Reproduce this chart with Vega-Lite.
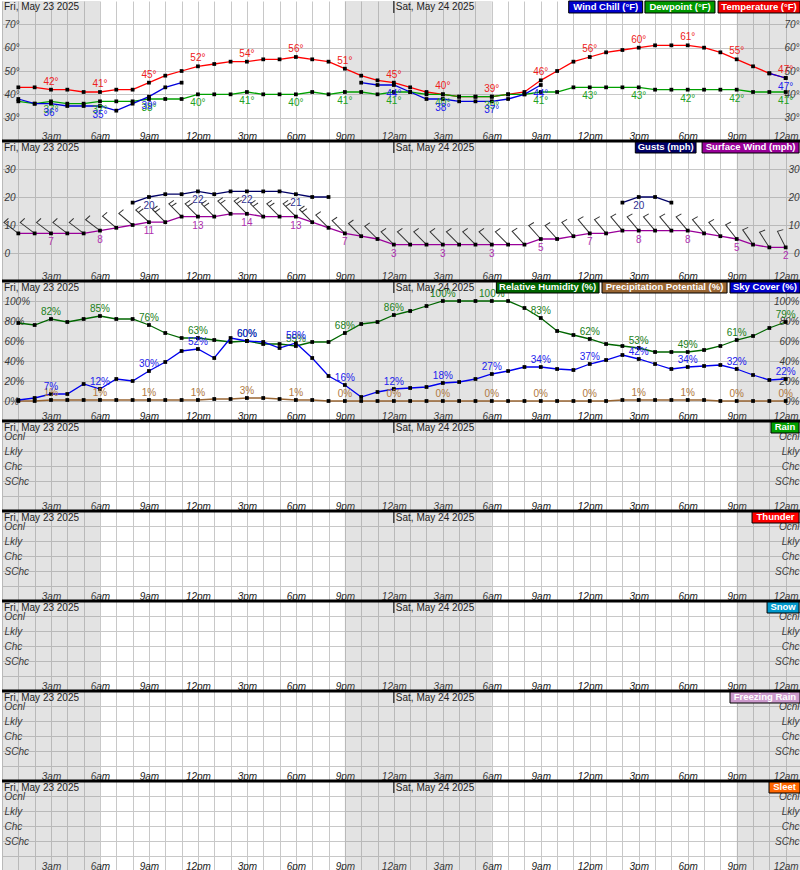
{
"$schema": "https://vega.github.io/schema/vega-lite/v6.json",
"padding": 0,
"background": "white",
"spacing": 0,
"bounds": "flush",
"config": {
  "view": {"stroke": null},
  "font": "Liberation Sans",
  "text": {"font": "Liberation Sans", "fontSize": 10},
  "axisX": {"tickCount": 49, "grid": true, "gridColor": "#c8c8c8", "ticks": false, "tickSize": 0, "domain": false, "labelPadding": -2, "labelBaseline": "alphabetic", "labelOverlap": false, "labelBound": false, "labelFlush": false, "labelFontStyle": "italic", "labelFontSize": 10, "labelColor": "#222", "labelFont": "Liberation Sans",
    "labelExpr": "datum.value % 3 == 0 && datum.value > 0 && datum.value < 49 ? (datum.value % 12 == 0 ? 12 : datum.value % 12) + (datum.value % 24 < 12 ? 'am' : 'pm') : ''"},
  "axisY": {"ticks": false, "tickSize": 0, "domain": false, "labelFontStyle": "italic", "labelFontSize": 10, "labelColor": "#222", "labelFont": "Liberation Sans", "labelOverlap": false, "labelBound": false, "labelFlush": false, "gridColor": "#c8c8c8", "labelBaseline": "middle"},
  "axisLeft": {"labelAlign": "left", "labelPadding": -2},
  "axisRight": {"labelAlign": "right", "labelPadding": -3}
},
"datasets": {
  "night": [{"s":0,"e":6},{"s":21,"e":30},{"s":45,"e":49}],
  "dates": [{"h":0,"t":"Fri, May 23 2025"},{"h":24,"t":"Sat, May 24 2025"}],
  "hourly": [
{"h":1,"T":43,"Td":37,"WC":38,"RH":78,"PP":0,"SC":1,"WS":7,"WG":null,"WD":307},
{"h":2,"T":43,"Td":36,"WC":36,"RH":76,"PP":0,"SC":3,"WS":7,"WG":null,"WD":307},
{"h":3,"T":42,"Td":37,"WC":36,"RH":82,"PP":1,"SC":7,"WS":7,"WG":null,"WD":307},
{"h":4,"T":42,"Td":36,"WC":35,"RH":79,"PP":1,"SC":7,"WS":7,"WG":null,"WD":307},
{"h":5,"T":41,"Td":36,"WC":35,"RH":82,"PP":1,"SC":17,"WS":7,"WG":null,"WD":307},
{"h":6,"T":41,"Td":37,"WC":35,"RH":85,"PP":1,"SC":12,"WS":8,"WG":null,"WD":307},
{"h":7,"T":42,"Td":37,"WC":33,"RH":82,"PP":1,"SC":22,"WS":9,"WG":null,"WD":310},
{"h":8,"T":42,"Td":37,"WC":36,"RH":82,"PP":1,"SC":20,"WS":10,"WG":18,"WD":310},
{"h":9,"T":45,"Td":38,"WC":39,"RH":76,"PP":1,"SC":30,"WS":11,"WG":20,"WD":313},
{"h":10,"T":48,"Td":38,"WC":43,"RH":68,"PP":1,"SC":39,"WS":11,"WG":21,"WD":315},
{"h":11,"T":50,"Td":38,"WC":45,"RH":63,"PP":1,"SC":50,"WS":13,"WG":21,"WD":315},
{"h":12,"T":52,"Td":40,"WC":null,"RH":63,"PP":1,"SC":52,"WS":13,"WG":22,"WD":315},
{"h":13,"T":53,"Td":40,"WC":null,"RH":61,"PP":2,"SC":43,"WS":13,"WG":21,"WD":315},
{"h":14,"T":54,"Td":40,"WC":null,"RH":59,"PP":2,"SC":63,"WS":14,"WG":22,"WD":315},
{"h":15,"T":54,"Td":41,"WC":null,"RH":60,"PP":3,"SC":60,"WS":14,"WG":22,"WD":315},
{"h":16,"T":55,"Td":40,"WC":null,"RH":57,"PP":3,"SC":59,"WS":13,"WG":22,"WD":315},
{"h":17,"T":55,"Td":40,"WC":null,"RH":57,"PP":2,"SC":53,"WS":13,"WG":22,"WD":315},
{"h":18,"T":56,"Td":40,"WC":null,"RH":55,"PP":1,"SC":58,"WS":13,"WG":21,"WD":315},
{"h":19,"T":55,"Td":41,"WC":null,"RH":59,"PP":1,"SC":43,"WS":11,"WG":20,"WD":315},
{"h":20,"T":54,"Td":40,"WC":null,"RH":59,"PP":0,"SC":25,"WS":9,"WG":20,"WD":315},
{"h":21,"T":51,"Td":41,"WC":null,"RH":68,"PP":0,"SC":16,"WS":7,"WG":null,"WD":315},
{"h":22,"T":48,"Td":41,"WC":45,"RH":77,"PP":0,"SC":4,"WS":6,"WG":null,"WD":315},
{"h":23,"T":46,"Td":40,"WC":44,"RH":79,"PP":0,"SC":9,"WS":5,"WG":null,"WD":315},
{"h":24,"T":45,"Td":41,"WC":44,"RH":86,"PP":0,"SC":12,"WS":3,"WG":null,"WD":315},
{"h":25,"T":43,"Td":41,"WC":41,"RH":90,"PP":0,"SC":13,"WS":3,"WG":null,"WD":315},
{"h":26,"T":41,"Td":40,"WC":38,"RH":95,"PP":0,"SC":14,"WS":3,"WG":null,"WD":315},
{"h":27,"T":40,"Td":40,"WC":38,"RH":100,"PP":0,"SC":18,"WS":3,"WG":null,"WD":315},
{"h":28,"T":39,"Td":39,"WC":37,"RH":100,"PP":0,"SC":19,"WS":3,"WG":null,"WD":315},
{"h":29,"T":39,"Td":39,"WC":37,"RH":100,"PP":0,"SC":22,"WS":3,"WG":null,"WD":315},
{"h":30,"T":39,"Td":39,"WC":37,"RH":100,"PP":0,"SC":27,"WS":3,"WG":null,"WD":315},
{"h":31,"T":40,"Td":40,"WC":38,"RH":100,"PP":0,"SC":30,"WS":3,"WG":null,"WD":315},
{"h":32,"T":41,"Td":40,"WC":40,"RH":93,"PP":0,"SC":34,"WS":3,"WG":null,"WD":317},
{"h":33,"T":46,"Td":41,"WC":44,"RH":83,"PP":0,"SC":34,"WS":5,"WG":null,"WD":318},
{"h":34,"T":50,"Td":41,"WC":null,"RH":70,"PP":0,"SC":32,"WS":5,"WG":null,"WD":318},
{"h":35,"T":54,"Td":43,"WC":null,"RH":66,"PP":0,"SC":31,"WS":6,"WG":null,"WD":320},
{"h":36,"T":56,"Td":43,"WC":null,"RH":62,"PP":0,"SC":37,"WS":7,"WG":null,"WD":320},
{"h":37,"T":58,"Td":43,"WC":null,"RH":57,"PP":0,"SC":41,"WS":7,"WG":null,"WD":320},
{"h":38,"T":59,"Td":43,"WC":null,"RH":55,"PP":1,"SC":46,"WS":8,"WG":18,"WD":320},
{"h":39,"T":60,"Td":43,"WC":null,"RH":53,"PP":1,"SC":42,"WS":8,"WG":20,"WD":320},
{"h":40,"T":61,"Td":42,"WC":null,"RH":49,"PP":1,"SC":37,"WS":8,"WG":20,"WD":320},
{"h":41,"T":61,"Td":42,"WC":null,"RH":49,"PP":1,"SC":32,"WS":8,"WG":18,"WD":320},
{"h":42,"T":61,"Td":42,"WC":null,"RH":49,"PP":1,"SC":34,"WS":8,"WG":null,"WD":320},
{"h":43,"T":60,"Td":42,"WC":null,"RH":51,"PP":1,"SC":35,"WS":7,"WG":null,"WD":320},
{"h":44,"T":58,"Td":42,"WC":null,"RH":55,"PP":0,"SC":36,"WS":6,"WG":null,"WD":320},
{"h":45,"T":55,"Td":42,"WC":null,"RH":61,"PP":0,"SC":32,"WS":5,"WG":null,"WD":322},
{"h":46,"T":52,"Td":41,"WC":null,"RH":65,"PP":0,"SC":26,"WS":3,"WG":null,"WD":325},
{"h":47,"T":49,"Td":41,"WC":49,"RH":73,"PP":0,"SC":21,"WS":2,"WG":null,"WD":327},
{"h":48,"T":47,"Td":41,"WC":47,"RH":79,"PP":0,"SC":22,"WS":2,"WG":null,"WD":333}
  ]
},
"vconcat": [
{
 "width": 800, "height": 140,
 "resolve": {"axis": {"y": "independent"}},
 "layer": [
  {"data":{"name":"night"},"mark":{"type":"rect","fill":"#8c8c8c","opacity":0.24},"encoding":{"x":{"field":"s","type":"quantitative","scale":{"domain":[0,49],"nice":false,"zero":false},"title":null},"x2":{"field":"e"}}},
  {"data":{"name":"hourly"},"mark":{"type":"line","color":"#ff0000","strokeWidth":1.3,"point":{"filled":true,"color":"black","shape":"square","size":14,"opacity":1}},"encoding":{"x":{"field":"h","type":"quantitative","scale":{"domain":[0,49],"nice":false,"zero":false},"title":null},"y":{"field":"T","type":"quantitative","scale":{"domain":[20,80],"nice":false,"zero":false},"title":null,"axis":{"orient":"left","values":[30,40,50,60,70],"grid":true,"labelExpr":"datum.value + '°'"}}}},
  {"data":{"name":"hourly"},"mark":{"type":"line","color":"#00a000","strokeWidth":1.3,"point":{"filled":true,"color":"black","shape":"square","size":14,"opacity":1}},"encoding":{"x":{"field":"h","type":"quantitative","scale":{"domain":[0,49],"nice":false,"zero":false},"title":null},"y":{"field":"Td","type":"quantitative","scale":{"domain":[20,80],"nice":false,"zero":false},"title":null,"axis":{"orient":"right","values":[30,40,50,60,70],"grid":false,"labelExpr":"datum.value + '°'"}}}},
  {"data":{"name":"hourly"},"mark":{"type":"line","color":"#0000dd","strokeWidth":1.3,"invalid":"break-paths-show-domains","point":{"filled":true,"color":"black","shape":"square","size":14,"opacity":1}},"encoding":{"x":{"field":"h","type":"quantitative","scale":{"domain":[0,49],"nice":false,"zero":false},"title":null},"y":{"field":"WC","type":"quantitative","scale":{"domain":[20,80],"nice":false,"zero":false},"axis":null}}},
  {"data":{"name":"hourly"},"transform":[{"filter":"datum.h % 3 == 0"}],"mark":{"type":"text","color":"#ee2020","dy":-8,"text":{"expr":"datum.T + '°'"}},"encoding":{"x":{"field":"h","type":"quantitative","scale":{"domain":[0,49],"nice":false,"zero":false},"title":null},"y":{"field":"T","type":"quantitative","scale":{"domain":[20,80],"nice":false,"zero":false},"axis":null}}},
  {"data":{"name":"hourly"},"transform":[{"filter":"datum.h % 3 == 0"}],"mark":{"type":"text","color":"#22a022","dy":9,"text":{"expr":"datum.Td + '°'"}},"encoding":{"x":{"field":"h","type":"quantitative","scale":{"domain":[0,49],"nice":false,"zero":false},"title":null},"y":{"field":"Td","type":"quantitative","scale":{"domain":[20,80],"nice":false,"zero":false},"axis":null}}},
  {"data":{"name":"hourly"},"transform":[{"filter":"datum.h % 3 == 0 && isValid(datum.WC)"}],"mark":{"type":"text","color":"#2020ee","dy":9,"text":{"expr":"datum.WC + '°'"}},"encoding":{"x":{"field":"h","type":"quantitative","scale":{"domain":[0,49],"nice":false,"zero":false},"title":null},"y":{"field":"WC","type":"quantitative","scale":{"domain":[20,80],"nice":false,"zero":false},"axis":null}}},
  {"data":{"values":[{}]},"mark":{"type":"rect","fill":"#0000cc","stroke":"black","strokeWidth":1},"encoding":{"x":{"datum":34.71,"type":"quantitative","title":null},"x2":{"datum":39.24},"y":{"datum":80,"type":"quantitative","scale":{"domain":[20,80],"nice":false,"zero":false},"axis":null},"y2":{"datum":74.86}}},
  {"data":{"values":[{}]},"mark":{"type":"text","text":"Wind Chill (°F)","color":"white","fontWeight":"bold","fontSize":9.5,"align":"center","baseline":"middle"},"encoding":{"x":{"datum":36.98,"type":"quantitative","title":null},"y":{"datum":77.43,"type":"quantitative","scale":{"domain":[20,80],"nice":false,"zero":false},"axis":null}}},
  {"data":{"values":[{}]},"mark":{"type":"rect","fill":"#009900","stroke":"black","strokeWidth":1},"encoding":{"x":{"datum":39.38,"type":"quantitative","title":null},"x2":{"datum":43.67},"y":{"datum":80,"type":"quantitative","scale":{"domain":[20,80],"nice":false,"zero":false},"axis":null},"y2":{"datum":74.86}}},
  {"data":{"values":[{}]},"mark":{"type":"text","text":"Dewpoint (°F)","color":"white","fontWeight":"bold","fontSize":9.5,"align":"center","baseline":"middle"},"encoding":{"x":{"datum":41.53,"type":"quantitative","title":null},"y":{"datum":77.43,"type":"quantitative","scale":{"domain":[20,80],"nice":false,"zero":false},"axis":null}}},
  {"data":{"values":[{}]},"mark":{"type":"rect","fill":"#ee0000","stroke":"black","strokeWidth":1},"encoding":{"x":{"datum":43.86,"type":"quantitative","title":null},"x2":{"datum":48.88},"y":{"datum":80,"type":"quantitative","scale":{"domain":[20,80],"nice":false,"zero":false},"axis":null},"y2":{"datum":74.86}}},
  {"data":{"values":[{}]},"mark":{"type":"text","text":"Temperature (°F)","color":"white","fontWeight":"bold","fontSize":9.5,"align":"center","baseline":"middle"},"encoding":{"x":{"datum":46.37,"type":"quantitative","title":null},"y":{"datum":77.43,"type":"quantitative","scale":{"domain":[20,80],"nice":false,"zero":false},"axis":null}}},
  {"data":{"name":"dates"},"mark":{"type":"text","align":"left","baseline":"top","dx":2,"dy":1,"color":"#222"},"encoding":{"x":{"field":"h","type":"quantitative","scale":{"domain":[0,49],"nice":false,"zero":false},"title":null},"y":{"datum":80,"type":"quantitative","scale":{"domain":[20,80],"nice":false,"zero":false},"axis":null},"text":{"field":"t"}}},
  {"data":{"name":"dates"},"transform":[{"filter":"datum.h > 0"}],"mark":{"type":"rule","color":"black","strokeWidth":1},"encoding":{"x":{"field":"h","type":"quantitative","scale":{"domain":[0,49],"nice":false,"zero":false},"title":null},"y":{"datum":80,"type":"quantitative","scale":{"domain":[20,80],"nice":false,"zero":false},"axis":null},"y2":{"datum":74.86}}}
 ]
},
{
 "width": 800, "height": 140,
 "resolve": {"axis": {"y": "independent"}},
 "layer": [
  {"data":{"name":"night"},"mark":{"type":"rect","fill":"#8c8c8c","opacity":0.24},"encoding":{"x":{"field":"s","type":"quantitative","scale":{"domain":[0,49],"nice":false,"zero":false},"title":null},"x2":{"field":"e"}}},
  {"data":{"name":"hourly"},"transform":[{"filter":"datum.WS < 11"}],"mark":{"type":"point","shape":"M0,0L0,-1L0.33,-0.94","size":1296,"filled":false,"color":"#333","strokeWidth":1,"opacity":1},"encoding":{"x":{"field":"h","type":"quantitative","scale":{"domain":[0,49],"nice":false,"zero":false},"title":null},"y":{"field":"WS","type":"quantitative","scale":{"domain":[-10,40],"nice":false,"zero":false},"axis":null},"angle":{"field":"WD","type":"quantitative","scale":null}}},
  {"data":{"name":"hourly"},"transform":[{"filter":"datum.WS >= 11"}],"mark":{"type":"point","shape":"M0,0L0,-1L0.33,-0.94M0,-0.8L0.33,-0.74","size":1296,"filled":false,"color":"#333","strokeWidth":1,"opacity":1},"encoding":{"x":{"field":"h","type":"quantitative","scale":{"domain":[0,49],"nice":false,"zero":false},"title":null},"y":{"field":"WS","type":"quantitative","scale":{"domain":[-10,40],"nice":false,"zero":false},"axis":null},"angle":{"field":"WD","type":"quantitative","scale":null}}},
  {"data":{"name":"hourly"},"mark":{"type":"line","color":"#990099","strokeWidth":1.3,"point":{"filled":true,"color":"black","shape":"square","size":14,"opacity":1}},"encoding":{"x":{"field":"h","type":"quantitative","scale":{"domain":[0,49],"nice":false,"zero":false},"title":null},"y":{"field":"WS","type":"quantitative","scale":{"domain":[-10,40],"nice":false,"zero":false},"title":null,"axis":{"orient":"left","values":[0,10,20,30],"grid":true}}}},
  {"data":{"name":"hourly"},"mark":{"type":"line","color":"#000066","strokeWidth":1.3,"invalid":"break-paths-show-domains","point":{"filled":true,"color":"black","shape":"square","size":14,"opacity":1}},"encoding":{"x":{"field":"h","type":"quantitative","scale":{"domain":[0,49],"nice":false,"zero":false},"title":null},"y":{"field":"WG","type":"quantitative","scale":{"domain":[-10,40],"nice":false,"zero":false},"title":null,"axis":{"orient":"right","values":[0,10,20,30],"grid":false}}}},
  {"data":{"name":"hourly"},"transform":[{"filter":"datum.h % 3 == 0"}],"mark":{"type":"text","color":"#b030b0","dy":9},"encoding":{"x":{"field":"h","type":"quantitative","scale":{"domain":[0,49],"nice":false,"zero":false},"title":null},"y":{"field":"WS","type":"quantitative","scale":{"domain":[-10,40],"nice":false,"zero":false},"axis":null},"text":{"field":"WS","type":"quantitative"}}},
  {"data":{"name":"hourly"},"transform":[{"filter":"datum.h % 3 == 0 && isValid(datum.WG)"}],"mark":{"type":"text","color":"#303090","dy":9},"encoding":{"x":{"field":"h","type":"quantitative","scale":{"domain":[0,49],"nice":false,"zero":false},"title":null},"y":{"field":"WG","type":"quantitative","scale":{"domain":[-10,40],"nice":false,"zero":false},"axis":null},"text":{"field":"WG","type":"quantitative"}}},
  {"data":{"values":[{}]},"mark":{"type":"rect","fill":"#000066","stroke":"black","strokeWidth":1},"encoding":{"x":{"datum":38.79,"type":"quantitative","title":null},"x2":{"datum":42.51},"y":{"datum":40,"type":"quantitative","scale":{"domain":[-10,40],"nice":false,"zero":false},"axis":null},"y2":{"datum":35.71}}},
  {"data":{"values":[{}]},"mark":{"type":"text","text":"Gusts (mph)","color":"white","fontWeight":"bold","fontSize":9.5,"align":"center","baseline":"middle"},"encoding":{"x":{"datum":40.65,"type":"quantitative","title":null},"y":{"datum":37.86,"type":"quantitative","scale":{"domain":[-10,40],"nice":false,"zero":false},"axis":null}}},
  {"data":{"values":[{}]},"mark":{"type":"rect","fill":"#990099","stroke":"black","strokeWidth":1},"encoding":{"x":{"datum":42.88,"type":"quantitative","title":null},"x2":{"datum":48.82},"y":{"datum":40,"type":"quantitative","scale":{"domain":[-10,40],"nice":false,"zero":false},"axis":null},"y2":{"datum":35.71}}},
  {"data":{"values":[{}]},"mark":{"type":"text","text":"Surface Wind (mph)","color":"white","fontWeight":"bold","fontSize":9.5,"align":"center","baseline":"middle"},"encoding":{"x":{"datum":45.85,"type":"quantitative","title":null},"y":{"datum":37.86,"type":"quantitative","scale":{"domain":[-10,40],"nice":false,"zero":false},"axis":null}}},
  {"data":{"name":"dates"},"mark":{"type":"text","align":"left","baseline":"top","dx":2,"dy":2,"color":"#222"},"encoding":{"x":{"field":"h","type":"quantitative","scale":{"domain":[0,49],"nice":false,"zero":false},"title":null},"y":{"datum":40,"type":"quantitative","scale":{"domain":[-10,40],"nice":false,"zero":false},"axis":null},"text":{"field":"t"}}},
  {"data":{"name":"dates"},"transform":[{"filter":"datum.h > 0"}],"mark":{"type":"rule","color":"black","strokeWidth":1},"encoding":{"x":{"field":"h","type":"quantitative","scale":{"domain":[0,49],"nice":false,"zero":false},"title":null},"y":{"datum":40,"type":"quantitative","scale":{"domain":[-10,40],"nice":false,"zero":false},"axis":null},"y2":{"datum":35.71}}},
  {"data":{"values":[{}]},"mark":{"type":"rule","color":"black","strokeWidth":3},"encoding":{"y":{"datum":40,"type":"quantitative","scale":{"domain":[-10,40],"nice":false,"zero":false},"axis":null}}}
 ]
},
{
 "width": 800, "height": 140,
 "resolve": {"axis": {"y": "independent"}},
 "layer": [
  {"data":{"name":"night"},"mark":{"type":"rect","fill":"#8c8c8c","opacity":0.24},"encoding":{"x":{"field":"s","type":"quantitative","scale":{"domain":[0,49],"nice":false,"zero":false},"title":null},"x2":{"field":"e"}}},
  {"data":{"name":"hourly"},"mark":{"type":"line","color":"#006600","strokeWidth":1.3,"point":{"filled":true,"color":"black","shape":"square","size":14,"opacity":1}},"encoding":{"x":{"field":"h","type":"quantitative","scale":{"domain":[0,49],"nice":false,"zero":false},"title":null},"y":{"field":"RH","type":"quantitative","scale":{"domain":[-20,120],"nice":false,"zero":false},"title":null,"axis":{"orient":"left","values":[0,20,40,60,80,100],"grid":true,"labelExpr":"datum.value + '%'"}}}},
  {"data":{"name":"hourly"},"mark":{"type":"line","color":"#996633","strokeWidth":1.3,"point":{"filled":true,"color":"black","shape":"square","size":14,"opacity":1}},"encoding":{"x":{"field":"h","type":"quantitative","scale":{"domain":[0,49],"nice":false,"zero":false},"title":null},"y":{"field":"PP","type":"quantitative","scale":{"domain":[-20,120],"nice":false,"zero":false},"title":null,"axis":{"orient":"right","values":[0,20,40,60,80,100],"grid":false,"labelExpr":"datum.value + '%'"}}}},
  {"data":{"name":"hourly"},"mark":{"type":"line","color":"#0000ee","strokeWidth":1.3,"point":{"filled":true,"color":"black","shape":"square","size":14,"opacity":1}},"encoding":{"x":{"field":"h","type":"quantitative","scale":{"domain":[0,49],"nice":false,"zero":false},"title":null},"y":{"field":"SC","type":"quantitative","scale":{"domain":[-20,120],"nice":false,"zero":false},"axis":null}}},
  {"data":{"name":"hourly"},"transform":[{"filter":"datum.h % 3 == 0"}],"mark":{"type":"text","color":"#208020","dy":-7,"text":{"expr":"datum.RH + '%'"}},"encoding":{"x":{"field":"h","type":"quantitative","scale":{"domain":[0,49],"nice":false,"zero":false},"title":null},"y":{"field":"RH","type":"quantitative","scale":{"domain":[-20,120],"nice":false,"zero":false},"axis":null}}},
  {"data":{"name":"hourly"},"transform":[{"filter":"datum.h % 3 == 0"}],"mark":{"type":"text","color":"#b07840","dy":-7,"text":{"expr":"datum.PP + '%'"}},"encoding":{"x":{"field":"h","type":"quantitative","scale":{"domain":[0,49],"nice":false,"zero":false},"title":null},"y":{"field":"PP","type":"quantitative","scale":{"domain":[-20,120],"nice":false,"zero":false},"axis":null}}},
  {"data":{"name":"hourly"},"transform":[{"filter":"datum.h % 3 == 0"}],"mark":{"type":"text","color":"#2020ee","dy":-7,"text":{"expr":"datum.SC + '%'"}},"encoding":{"x":{"field":"h","type":"quantitative","scale":{"domain":[0,49],"nice":false,"zero":false},"title":null},"y":{"field":"SC","type":"quantitative","scale":{"domain":[-20,120],"nice":false,"zero":false},"axis":null}}},
  {"data":{"values":[{}]},"mark":{"type":"rect","fill":"#006600","stroke":"black","strokeWidth":1},"encoding":{"x":{"datum":30.28,"type":"quantitative","title":null},"x2":{"datum":36.57},"y":{"datum":120,"type":"quantitative","scale":{"domain":[-20,120],"nice":false,"zero":false},"axis":null},"y2":{"datum":108}}},
  {"data":{"values":[{}]},"mark":{"type":"text","text":"Relative Humidity (%)","color":"white","fontWeight":"bold","fontSize":9.5,"align":"center","baseline":"middle"},"encoding":{"x":{"datum":33.42,"type":"quantitative","title":null},"y":{"datum":114,"type":"quantitative","scale":{"domain":[-20,120],"nice":false,"zero":false},"axis":null}}},
  {"data":{"values":[{}]},"mark":{"type":"rect","fill":"#996633","stroke":"black","strokeWidth":1},"encoding":{"x":{"datum":36.75,"type":"quantitative","title":null},"x2":{"datum":44.41},"y":{"datum":120,"type":"quantitative","scale":{"domain":[-20,120],"nice":false,"zero":false},"axis":null},"y2":{"datum":108}}},
  {"data":{"values":[{}]},"mark":{"type":"text","text":"Precipitation Potential (%)","color":"white","fontWeight":"bold","fontSize":9.5,"align":"center","baseline":"middle"},"encoding":{"x":{"datum":40.58,"type":"quantitative","title":null},"y":{"datum":114,"type":"quantitative","scale":{"domain":[-20,120],"nice":false,"zero":false},"axis":null}}},
  {"data":{"values":[{}]},"mark":{"type":"rect","fill":"#0000cc","stroke":"black","strokeWidth":1},"encoding":{"x":{"datum":44.59,"type":"quantitative","title":null},"x2":{"datum":48.88},"y":{"datum":120,"type":"quantitative","scale":{"domain":[-20,120],"nice":false,"zero":false},"axis":null},"y2":{"datum":108}}},
  {"data":{"values":[{}]},"mark":{"type":"text","text":"Sky Cover (%)","color":"white","fontWeight":"bold","fontSize":9.5,"align":"center","baseline":"middle"},"encoding":{"x":{"datum":46.73,"type":"quantitative","title":null},"y":{"datum":114,"type":"quantitative","scale":{"domain":[-20,120],"nice":false,"zero":false},"axis":null}}},
  {"data":{"name":"dates"},"mark":{"type":"text","align":"left","baseline":"top","dx":2,"dy":2,"color":"#222"},"encoding":{"x":{"field":"h","type":"quantitative","scale":{"domain":[0,49],"nice":false,"zero":false},"title":null},"y":{"datum":120,"type":"quantitative","scale":{"domain":[-20,120],"nice":false,"zero":false},"axis":null},"text":{"field":"t"}}},
  {"data":{"name":"dates"},"transform":[{"filter":"datum.h > 0"}],"mark":{"type":"rule","color":"black","strokeWidth":1},"encoding":{"x":{"field":"h","type":"quantitative","scale":{"domain":[0,49],"nice":false,"zero":false},"title":null},"y":{"datum":120,"type":"quantitative","scale":{"domain":[-20,120],"nice":false,"zero":false},"axis":null},"y2":{"datum":108}}},
  {"data":{"values":[{}]},"mark":{"type":"rule","color":"black","strokeWidth":3},"encoding":{"y":{"datum":120,"type":"quantitative","scale":{"domain":[-20,120],"nice":false,"zero":false},"axis":null}}}
 ]
},
{
 "width": 800, "height": 90,
 "resolve": {"axis": {"y": "independent"}},
 "layer": [
  {"data":{"name":"night"},"mark":{"type":"rect","fill":"#8c8c8c","opacity":0.24},"encoding":{"x":{"field":"s","type":"quantitative","scale":{"domain":[0,49],"nice":false,"zero":false},"title":null},"x2":{"field":"e"}}},
  {"data":{"values":[{}]},"mark":{"type":"rect","fill":"#00a000","stroke":"black","strokeWidth":1},"encoding":{"x":{"datum":47.10,"type":"quantitative","title":null},"x2":{"datum":48.82},"y":{"datum":5,"type":"quantitative","scale":{"domain":[-1,5],"nice":false,"zero":false},"title":null,"axis":{"orient":"right","values":[0,1,2,3,4],"grid":false,"labelExpr":"['','SChc','Chc','Lkly','Ocnl'][datum.value]"}},"y2":{"datum":4.2}}},
  {"data":{"values":[{}]},"mark":{"type":"text","text":"Rain","color":"white","fontWeight":"bold","fontSize":9.5,"align":"center","baseline":"middle"},"encoding":{"x":{"datum":47.96,"type":"quantitative","title":null},"y":{"datum":4.6,"type":"quantitative","scale":{"domain":[-1,5],"nice":false,"zero":false},"axis":null}}},
  {"data":{"name":"dates"},"mark":{"type":"text","align":"left","baseline":"top","dx":2,"dy":2,"color":"#222"},"encoding":{"x":{"field":"h","type":"quantitative","scale":{"domain":[0,49],"nice":false,"zero":false},"title":null},"y":{"datum":5,"type":"quantitative","scale":{"domain":[-1,5],"nice":false,"zero":false},"axis":null},"text":{"field":"t"}}},
  {"data":{"name":"dates"},"transform":[{"filter":"datum.h > 0"}],"mark":{"type":"rule","color":"black","strokeWidth":1},"encoding":{"x":{"field":"h","type":"quantitative","scale":{"domain":[0,49],"nice":false,"zero":false},"title":null},"y":{"datum":5,"type":"quantitative","scale":{"domain":[-1,5],"nice":false,"zero":false},"axis":null},"y2":{"datum":4.2}}},
  {"data":{"values":[{}]},"mark":{"type":"rule","color":"black","strokeWidth":3},"encoding":{"y":{"datum":5,"type":"quantitative","scale":{"domain":[-1,5],"nice":false,"zero":false},"title":null,"axis":{"orient":"left","values":[0,1,2,3,4],"grid":true,"labelExpr":"['','SChc','Chc','Lkly','Ocnl'][datum.value]"}}}}
 ]
},
{
 "width": 800, "height": 90,
 "resolve": {"axis": {"y": "independent"}},
 "layer": [
  {"data":{"name":"night"},"mark":{"type":"rect","fill":"#8c8c8c","opacity":0.24},"encoding":{"x":{"field":"s","type":"quantitative","scale":{"domain":[0,49],"nice":false,"zero":false},"title":null},"x2":{"field":"e"}}},
  {"data":{"values":[{}]},"mark":{"type":"rect","fill":"#ff0000","stroke":"black","strokeWidth":1},"encoding":{"x":{"datum":45.94,"type":"quantitative","title":null},"x2":{"datum":48.82},"y":{"datum":5,"type":"quantitative","scale":{"domain":[-1,5],"nice":false,"zero":false},"title":null,"axis":{"orient":"right","values":[0,1,2,3,4],"grid":false,"labelExpr":"['','SChc','Chc','Lkly','Ocnl'][datum.value]"}},"y2":{"datum":4.2}}},
  {"data":{"values":[{}]},"mark":{"type":"text","text":"Thunder","color":"white","fontWeight":"bold","fontSize":9.5,"align":"center","baseline":"middle"},"encoding":{"x":{"datum":47.38,"type":"quantitative","title":null},"y":{"datum":4.6,"type":"quantitative","scale":{"domain":[-1,5],"nice":false,"zero":false},"axis":null}}},
  {"data":{"name":"dates"},"mark":{"type":"text","align":"left","baseline":"top","dx":2,"dy":2,"color":"#222"},"encoding":{"x":{"field":"h","type":"quantitative","scale":{"domain":[0,49],"nice":false,"zero":false},"title":null},"y":{"datum":5,"type":"quantitative","scale":{"domain":[-1,5],"nice":false,"zero":false},"axis":null},"text":{"field":"t"}}},
  {"data":{"name":"dates"},"transform":[{"filter":"datum.h > 0"}],"mark":{"type":"rule","color":"black","strokeWidth":1},"encoding":{"x":{"field":"h","type":"quantitative","scale":{"domain":[0,49],"nice":false,"zero":false},"title":null},"y":{"datum":5,"type":"quantitative","scale":{"domain":[-1,5],"nice":false,"zero":false},"axis":null},"y2":{"datum":4.2}}},
  {"data":{"values":[{}]},"mark":{"type":"rule","color":"black","strokeWidth":3},"encoding":{"y":{"datum":5,"type":"quantitative","scale":{"domain":[-1,5],"nice":false,"zero":false},"title":null,"axis":{"orient":"left","values":[0,1,2,3,4],"grid":true,"labelExpr":"['','SChc','Chc','Lkly','Ocnl'][datum.value]"}}}}
 ]
},
{
 "width": 800, "height": 90,
 "resolve": {"axis": {"y": "independent"}},
 "layer": [
  {"data":{"name":"night"},"mark":{"type":"rect","fill":"#8c8c8c","opacity":0.24},"encoding":{"x":{"field":"s","type":"quantitative","scale":{"domain":[0,49],"nice":false,"zero":false},"title":null},"x2":{"field":"e"}}},
  {"data":{"values":[{}]},"mark":{"type":"rect","fill":"#0099cc","stroke":"black","strokeWidth":1},"encoding":{"x":{"datum":46.86,"type":"quantitative","title":null},"x2":{"datum":48.82},"y":{"datum":5,"type":"quantitative","scale":{"domain":[-1,5],"nice":false,"zero":false},"title":null,"axis":{"orient":"right","values":[0,1,2,3,4],"grid":false,"labelExpr":"['','SChc','Chc','Lkly','Ocnl'][datum.value]"}},"y2":{"datum":4.2}}},
  {"data":{"values":[{}]},"mark":{"type":"text","text":"Snow","color":"white","fontWeight":"bold","fontSize":9.5,"align":"center","baseline":"middle"},"encoding":{"x":{"datum":47.84,"type":"quantitative","title":null},"y":{"datum":4.6,"type":"quantitative","scale":{"domain":[-1,5],"nice":false,"zero":false},"axis":null}}},
  {"data":{"name":"dates"},"mark":{"type":"text","align":"left","baseline":"top","dx":2,"dy":2,"color":"#222"},"encoding":{"x":{"field":"h","type":"quantitative","scale":{"domain":[0,49],"nice":false,"zero":false},"title":null},"y":{"datum":5,"type":"quantitative","scale":{"domain":[-1,5],"nice":false,"zero":false},"axis":null},"text":{"field":"t"}}},
  {"data":{"name":"dates"},"transform":[{"filter":"datum.h > 0"}],"mark":{"type":"rule","color":"black","strokeWidth":1},"encoding":{"x":{"field":"h","type":"quantitative","scale":{"domain":[0,49],"nice":false,"zero":false},"title":null},"y":{"datum":5,"type":"quantitative","scale":{"domain":[-1,5],"nice":false,"zero":false},"axis":null},"y2":{"datum":4.2}}},
  {"data":{"values":[{}]},"mark":{"type":"rule","color":"black","strokeWidth":3},"encoding":{"y":{"datum":5,"type":"quantitative","scale":{"domain":[-1,5],"nice":false,"zero":false},"title":null,"axis":{"orient":"left","values":[0,1,2,3,4],"grid":true,"labelExpr":"['','SChc','Chc','Lkly','Ocnl'][datum.value]"}}}}
 ]
},
{
 "width": 800, "height": 90,
 "resolve": {"axis": {"y": "independent"}},
 "layer": [
  {"data":{"name":"night"},"mark":{"type":"rect","fill":"#8c8c8c","opacity":0.24},"encoding":{"x":{"field":"s","type":"quantitative","scale":{"domain":[0,49],"nice":false,"zero":false},"title":null},"x2":{"field":"e"}}},
  {"data":{"values":[{}]},"mark":{"type":"rect","fill":"#cc99cc","stroke":"black","strokeWidth":1},"encoding":{"x":{"datum":44.59,"type":"quantitative","title":null},"x2":{"datum":48.88},"y":{"datum":5,"type":"quantitative","scale":{"domain":[-1,5],"nice":false,"zero":false},"title":null,"axis":{"orient":"right","values":[0,1,2,3,4],"grid":false,"labelExpr":"['','SChc','Chc','Lkly','Ocnl'][datum.value]"}},"y2":{"datum":4.2}}},
  {"data":{"values":[{}]},"mark":{"type":"text","text":"Freezing Rain","color":"white","fontWeight":"bold","fontSize":9.5,"align":"center","baseline":"middle"},"encoding":{"x":{"datum":46.73,"type":"quantitative","title":null},"y":{"datum":4.6,"type":"quantitative","scale":{"domain":[-1,5],"nice":false,"zero":false},"axis":null}}},
  {"data":{"name":"dates"},"mark":{"type":"text","align":"left","baseline":"top","dx":2,"dy":2,"color":"#222"},"encoding":{"x":{"field":"h","type":"quantitative","scale":{"domain":[0,49],"nice":false,"zero":false},"title":null},"y":{"datum":5,"type":"quantitative","scale":{"domain":[-1,5],"nice":false,"zero":false},"axis":null},"text":{"field":"t"}}},
  {"data":{"name":"dates"},"transform":[{"filter":"datum.h > 0"}],"mark":{"type":"rule","color":"black","strokeWidth":1},"encoding":{"x":{"field":"h","type":"quantitative","scale":{"domain":[0,49],"nice":false,"zero":false},"title":null},"y":{"datum":5,"type":"quantitative","scale":{"domain":[-1,5],"nice":false,"zero":false},"axis":null},"y2":{"datum":4.2}}},
  {"data":{"values":[{}]},"mark":{"type":"rule","color":"black","strokeWidth":3},"encoding":{"y":{"datum":5,"type":"quantitative","scale":{"domain":[-1,5],"nice":false,"zero":false},"title":null,"axis":{"orient":"left","values":[0,1,2,3,4],"grid":true,"labelExpr":"['','SChc','Chc','Lkly','Ocnl'][datum.value]"}}}}
 ]
},
{
 "width": 800, "height": 90,
 "resolve": {"axis": {"y": "independent"}},
 "layer": [
  {"data":{"name":"night"},"mark":{"type":"rect","fill":"#8c8c8c","opacity":0.24},"encoding":{"x":{"field":"s","type":"quantitative","scale":{"domain":[0,49],"nice":false,"zero":false},"title":null},"x2":{"field":"e"}}},
  {"data":{"values":[{}]},"mark":{"type":"rect","fill":"#ff6600","stroke":"black","strokeWidth":1},"encoding":{"x":{"datum":46.98,"type":"quantitative","title":null},"x2":{"datum":48.88},"y":{"datum":5,"type":"quantitative","scale":{"domain":[-1,5],"nice":false,"zero":false},"title":null,"axis":{"orient":"right","values":[0,1,2,3,4],"grid":false,"labelExpr":"['','SChc','Chc','Lkly','Ocnl'][datum.value]"}},"y2":{"datum":4.2}}},
  {"data":{"values":[{}]},"mark":{"type":"text","text":"Sleet","color":"white","fontWeight":"bold","fontSize":9.5,"align":"center","baseline":"middle"},"encoding":{"x":{"datum":47.93,"type":"quantitative","title":null},"y":{"datum":4.6,"type":"quantitative","scale":{"domain":[-1,5],"nice":false,"zero":false},"axis":null}}},
  {"data":{"name":"dates"},"mark":{"type":"text","align":"left","baseline":"top","dx":2,"dy":2,"color":"#222"},"encoding":{"x":{"field":"h","type":"quantitative","scale":{"domain":[0,49],"nice":false,"zero":false},"title":null},"y":{"datum":5,"type":"quantitative","scale":{"domain":[-1,5],"nice":false,"zero":false},"axis":null},"text":{"field":"t"}}},
  {"data":{"name":"dates"},"transform":[{"filter":"datum.h > 0"}],"mark":{"type":"rule","color":"black","strokeWidth":1},"encoding":{"x":{"field":"h","type":"quantitative","scale":{"domain":[0,49],"nice":false,"zero":false},"title":null},"y":{"datum":5,"type":"quantitative","scale":{"domain":[-1,5],"nice":false,"zero":false},"axis":null},"y2":{"datum":4.2}}},
  {"data":{"values":[{}]},"mark":{"type":"rule","color":"black","strokeWidth":3},"encoding":{"y":{"datum":5,"type":"quantitative","scale":{"domain":[-1,5],"nice":false,"zero":false},"title":null,"axis":{"orient":"left","values":[0,1,2,3,4],"grid":true,"labelExpr":"['','SChc','Chc','Lkly','Ocnl'][datum.value]"}}}}
 ]
}
]
}
